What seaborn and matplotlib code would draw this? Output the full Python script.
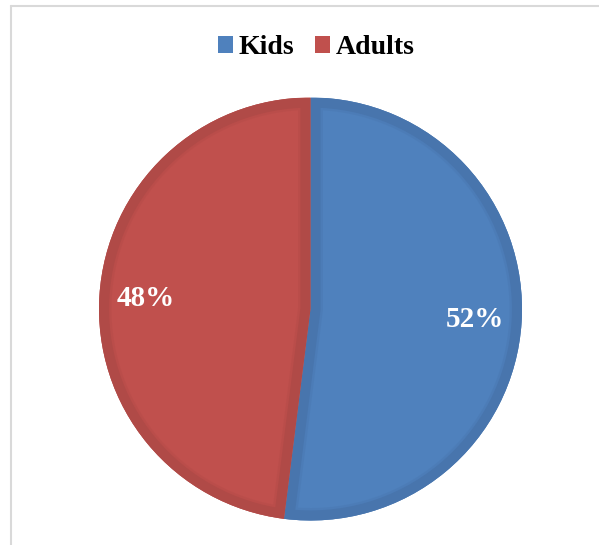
import matplotlib
matplotlib.use("Agg")
import matplotlib.pyplot as plt
import matplotlib.patches as mpatches
from matplotlib.lines import Line2D
import seaborn as sns

# Audience split
categories = ["Kids", "Adults"]
shares = [52, 48]

face_colors = ["#4F81BD", "#C0504D"]
rim_colors = ["#4875AD", "#B04A47"]

sns.set_theme(style="white")
plt.rcParams["font.family"] = ["Liberation Serif", "DejaVu Serif"]

W, H = 599, 545
fig = plt.figure(figsize=(W / 100, H / 100), dpi=100)
fig.patch.set_facecolor("white")

# pie area: centre and radius in pixels
cx, cy, r = 310.5, 309, 211.5
ax = fig.add_axes([(cx - r) / W, (H - cy - r) / H, 2 * r / W, 2 * r / H])

wedges, texts, autotexts = ax.pie(
    shares,
    colors=face_colors,
    startangle=90,
    counterclock=False,
    radius=1.0,
    autopct=lambda p: f"{p:.0f}%",
    pctdistance=0.78,
    textprops=dict(color="white", fontsize=21, fontweight="bold"),
    wedgeprops=dict(linewidth=0),
)
ax.set_xlim(-1, 1)
ax.set_ylim(-1, 1)
ax.set_axis_off()

# darker bevel rim drawn inside each wedge
for w, rim in zip(wedges, rim_colors):
    for lw, a in [(18, 0.35), (14.5, 1.0)]:
        ring = mpatches.Wedge(w.center, w.r, w.theta1, w.theta2,
                              fill=False, edgecolor=rim, linewidth=lw, alpha=a,
                              zorder=w.get_zorder() + 0.5)
        ax.add_patch(ring)
        ring.set_clip_path(w)

for t in autotexts:
    t.set_zorder(5)

# legend on top
handles = [mpatches.Patch(facecolor=c, edgecolor="none", label=l)
           for c, l in zip(face_colors, categories)]
leg = fig.legend(handles=handles, loc="center", ncol=2,
                 bbox_to_anchor=(316 / W, 1 - 48 / H),
                 frameon=False,
                 prop=dict(family=["Liberation Serif", "DejaVu Serif"], weight="bold", size=20),
                 handlelength=0.55, handleheight=0.55, handletextpad=0.2,
                 columnspacing=0.75, borderpad=0)
for t in leg.get_texts():
    t.set_color("black")

# light chart-area border
fig.add_artist(Line2D([11 / W, 11 / W], [0, 1 - 6 / H], transform=fig.transFigure,
                      color="#D9D9D9", linewidth=1.5))
fig.add_artist(Line2D([11 / W, 1], [1 - 6 / H, 1 - 6 / H], transform=fig.transFigure,
                      color="#D9D9D9", linewidth=1.5))

fig.savefig("out.png", dpi=100, facecolor="white")
